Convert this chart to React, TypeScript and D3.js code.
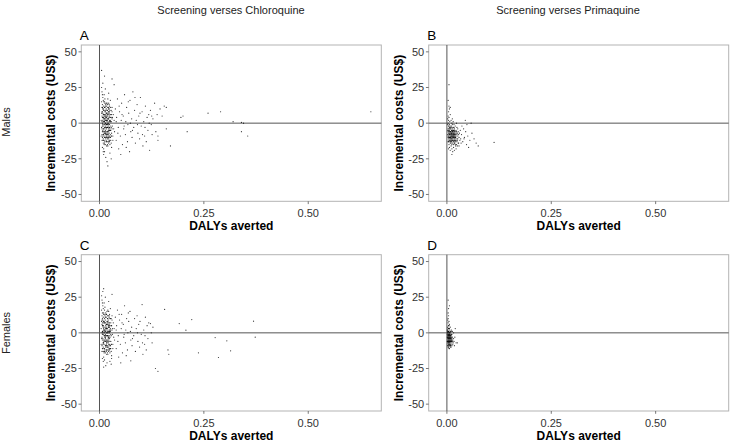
import React from "react";
import * as d3 from "d3";

// ---------- data (DALYs averted, incremental cost US$) ----------
const malesChloroquine: [number, number][] = [
  [0.004,2],[0.005,-3],[0.006,8],[0.007,-10],[0.008,4],[0.009,-6],[0.010,12],[0.011,-1],[0.012,6],[0.013,-13],[0.014,3],[0.015,-8],[0.016,10],[0.017,-4],[0.018,1],[0.019,-11],[0.020,7],[0.021,-2],[0.022,14],[0.023,-7],[0.024,5],[0.025,-15],[0.026,2],[0.027,-5],[0.028,9],[0.029,-9],[0.030,3],
  [0.005,15],[0.006,-8],[0.007,0],[0.008,18],[0.009,-14],[0.010,-4],[0.011,9],[0.012,-10],[0.013,5],[0.014,-2],[0.015,13],[0.016,-12],[0.017,7],[0.018,-6],[0.019,2],[0.020,-16],[0.021,11],[0.022,-9],[0.023,4],[0.024,-1],[0.026,16],[0.027,-12],[0.028,-3],[0.030,8],
  [0.004,-9],[0.006,5],[0.008,-1],[0.009,10],[0.011,-7],[0.012,1],[0.013,17],[0.014,-15],[0.015,4],[0.016,-3],[0.017,12],[0.018,-9],[0.019,6],[0.020,0],[0.021,-13],[0.022,3],[0.024,-5],[0.025,9],[0.027,1],[0.029,-7],
  [0.005,7],[0.006,-12],[0.007,13],[0.008,-5],[0.009,3],[0.010,-18],[0.011,20],[0.012,-6],[0.013,-1],[0.014,8],[0.015,-11],[0.016,2],[0.017,-16],[0.018,14],[0.019,-3],[0.020,5],[0.021,-8],[0.022,-11],[0.023,10],[0.025,-4],[0.026,-8],[0.028,4],[0.031,-2],[0.033,6],
  [0.006,22],[0.007,-17],[0.009,16],[0.010,6],[0.012,-20],[0.013,11],[0.015,0],[0.016,-7],[0.018,-13],[0.019,9],[0.021,3],[0.023,-3],[0.024,12],[0.026,-10],[0.028,-14],[0.030,11],[0.032,-9],[0.035,2],
  [0.007,4],[0.008,-9],[0.010,1],[0.011,-12],[0.012,15],[0.014,-5],[0.015,6],[0.017,-1],[0.018,5],[0.020,-10],[0.021,8],[0.022,-4],[0.024,-13],[0.025,1],[0.027,6],[0.029,-17],
  [0.006,1],[0.007,-6],[0.008,10],[0.009,-2],[0.010,4],[0.011,-9],[0.012,11],[0.013,-4],[0.014,0],[0.015,-6],[0.016,7],[0.017,-10],[0.018,3],[0.019,-1],[0.020,11],[0.021,-5],[0.022,8],[0.023,-12],[0.024,2],[0.025,6],
  [0.006,-4],[0.007,8],[0.008,2],[0.009,-11],[0.010,9],[0.011,3],[0.012,-3],[0.013,8],[0.014,-10],[0.015,2],[0.016,-9],[0.017,4],[0.018,-3],[0.019,13],[0.020,-7],[0.021,0],[0.022,-6],[0.023,7],[0.024,-9],[0.026,4],
  [0.007,11],[0.008,-12],[0.009,6],[0.010,-8],[0.011,1],[0.012,-14],[0.013,2],[0.014,12],[0.015,-3],[0.016,5],[0.017,-8],[0.018,9],[0.019,-6],[0.020,-3],[0.021,6],[0.022,-1],[0.023,1],[0.024,8],[0.025,-10],[0.027,-2],
  [0.008,7],[0.009,-4],[0.010,-12],[0.011,5],[0.012,3],[0.013,-7],[0.014,5],[0.015,9],[0.016,-1],[0.017,2],[0.018,-1],[0.019,-8],[0.020,3],[0.021,-10],[0.022,10],[0.023,-5],[0.024,-3],[0.026,-5],[0.028,1],[0.030,-4],
  [0.006,11],[0.007,-2],[0.009,-8],[0.010,15],[0.011,-15],[0.013,14],[0.014,-7],[0.016,14],[0.017,-13],[0.019,-15],[0.020,17],[0.022,-14],[0.023,13],[0.025,-12],[0.026,11],[0.028,-9],[0.029,6],[0.031,4],[0.032,-12],[0.034,-4],
  [0.005,25],[0.008,28],[0.012,33],[0.015,-24],[0.018,-27],[0.020,-30],[0.010,-22],[0.007,20],[0.009,-20],[0.014,24],[0.022,21],[0.025,-21],[0.030,31],[0.035,27],[0.028,-25],[0.005,37],
  [0.036,-6],[0.038,10],[0.040,-12],[0.041,4],[0.043,17],[0.045,-3],[0.046,-18],[0.048,8],[0.050,-9],[0.052,2],[0.053,14],[0.055,-15],[0.057,5],[0.058,-4],[0.060,20],[0.062,-8],[0.063,1],[0.065,11],[0.067,-13],[0.068,-1],[0.070,7],[0.072,-20],[0.073,16],[0.075,-6],[0.077,3],[0.078,-10],[0.080,22],[0.082,-3],[0.084,9],[0.086,-14],[0.088,2],[0.090,13],[0.092,-7],[0.094,5],[0.096,-11],[0.098,18],[0.100,-2],[0.102,8],[0.104,-16],[0.106,1],[0.108,-9],[0.110,12],[0.112,-13],[0.114,4],[0.116,-5],[0.118,6],[0.120,-19],[0.122,9],[0.124,-1],[0.126,-8],[0.128,3],[0.132,14],[0.135,-6],[0.138,6],[0.140,-12],[0.145,10],[0.150,5],[0.155,12],[0.160,-4],
  [0.040,1],[0.044,-7],[0.047,12],[0.051,-22],[0.054,6],[0.059,-2],[0.064,-17],[0.069,15],[0.074,0],[0.079,-5],[0.085,18],[0.091,-1],[0.097,7],[0.103,-8],[0.109,-3],[0.119,0],[0.125,5],
  [0.17,-16],[0.20,5],[0.21,-6],[0.26,7],[0.29,8],[0.32,1],[0.34,0.5],[0.345,0],[0.355,-9],[0.34,-6],[0.65,8],[0.195,4],[0.14,-9],[0.16,11]
];

const malesPrimaquine: [number, number][] = [
  [0.002,-5],[0.003,-9],[0.004,-2],[0.005,-12],[0.006,-7],[0.007,-4],[0.008,-10],[0.009,-6],[0.010,-14],[0.011,-8],[0.012,-3],[0.013,-11],[0.014,-7],[0.015,-9],[0.016,-5],[0.017,-13],[0.018,-8],[0.019,-10],[0.020,-6],[0.021,-12],[0.022,-9],[0.024,-11],[0.025,-7],[0.027,-14],[0.029,-10],
  [0.002,-1],[0.003,-6],[0.004,-11],[0.005,-8],[0.006,-3],[0.007,-13],[0.008,-6],[0.009,-9],[0.010,-4],[0.011,-11],[0.012,-7],[0.013,-5],[0.014,-12],[0.015,-3],[0.016,-10],[0.017,-7],[0.018,-11],[0.019,-5],[0.020,-13],[0.021,-8],[0.023,-6],[0.025,-12],[0.026,-9],[0.028,-8],[0.031,-12],
  [0.002,-8],[0.003,0],[0.004,-7],[0.005,-4],[0.006,-10],[0.007,-8],[0.008,-2],[0.009,-12],[0.010,-9],[0.011,-5],[0.012,-10],[0.013,-8],[0.014,-4],[0.015,-13],[0.016,-8],[0.017,-3],[0.018,-6],[0.019,-14],[0.020,-9],[0.022,-5],[0.023,-15],[0.024,-8],[0.026,-4],[0.030,-7],[0.033,-11],
  [0.003,-13],[0.004,2],[0.005,-15],[0.006,-1],[0.007,-11],[0.008,-14],[0.009,-3],[0.010,-11],[0.011,-2],[0.012,-15],[0.013,-1],[0.014,-9],[0.015,-6],[0.016,-15],[0.017,-10],[0.018,-4],[0.019,-8],[0.021,-16],[0.022,-12],[0.024,-3],[0.027,-6],[0.029,-16],[0.032,-5],
  [0.003,-4],[0.004,-9],[0.005,-6],[0.006,-12],[0.007,-9],[0.008,-7],[0.009,-10],[0.010,-7],[0.011,-13],[0.012,-9],[0.013,-6],[0.014,-10],[0.015,-11],[0.016,-7],[0.017,-9],[0.018,-12],[0.019,-7],[0.020,-10],
  [0.003,-10],[0.004,-5],[0.005,-10],[0.006,-5],[0.007,-6],[0.008,-11],[0.009,-8],[0.010,-12],[0.011,-7],[0.012,-5],[0.013,-12],[0.014,-6],[0.015,-8],[0.016,-12],[0.017,-5],[0.018,-9],[0.019,-12],[0.021,-10],
  [0.004,-13],[0.005,-2],[0.006,-8],[0.007,-10],[0.008,-4],[0.009,-13],[0.010,-6],[0.011,-9],[0.012,-12],[0.013,-9],[0.014,-14],[0.015,-5],[0.016,-9],[0.018,-14],[0.020,-11],[0.022,-7],[0.024,-13],[0.026,-11],
  [0.002,3],[0.003,5],[0.004,8],[0.005,4],[0.006,10],[0.007,1],[0.008,6],[0.010,2],[0.012,0],[0.013,3],[0.015,1],[0.017,-1],[0.020,-2],[0.023,0],
  [0.004,-18],[0.006,-17],[0.008,-19],[0.010,-16],[0.012,-18],[0.014,-20],[0.016,-17],[0.018,-19],[0.020,-15],[0.022,-18],[0.025,-16],[0.028,-14],[0.012,-22],
  [0.035,-8],[0.038,-13],[0.040,-4],[0.042,-10],[0.045,-6],[0.047,-15],[0.050,-9],[0.055,-12],[0.058,0],[0.060,-7],[0.065,-11],[0.070,-14],[0.075,-16],[0.036,-2],[0.048,-1],[0.052,-17],[0.034,-14],[0.041,-11],[0.044,2],
  [0.005,27],[0.003,16],[0.113,-13.5],[0.005,12],[0.008,11]
];

const femalesChloroquine: [number, number][] = [
  [0.004,3],[0.005,-4],[0.006,9],[0.007,-11],[0.008,5],[0.009,-7],[0.010,13],[0.011,-2],[0.012,7],[0.013,-12],[0.014,2],[0.015,-9],[0.016,11],[0.017,-5],[0.018,0],[0.019,-10],[0.020,8],[0.021,-3],[0.022,15],[0.023,-6],[0.024,4],[0.025,-14],[0.026,1],[0.027,-6],[0.028,10],[0.029,-8],[0.030,2],
  [0.005,16],[0.006,-9],[0.007,1],[0.008,19],[0.009,-13],[0.010,-5],[0.011,8],[0.012,-11],[0.013,4],[0.014,-3],[0.015,14],[0.016,-13],[0.017,6],[0.018,-7],[0.019,3],[0.020,-15],[0.021,12],[0.022,-8],[0.023,5],[0.024,0],[0.026,17],[0.027,-11],[0.028,-2],[0.030,9],
  [0.004,-8],[0.006,6],[0.008,0],[0.009,11],[0.011,-6],[0.012,2],[0.013,18],[0.014,-14],[0.015,5],[0.016,-2],[0.017,13],[0.018,-10],[0.019,7],[0.020,1],[0.021,-12],[0.022,4],[0.024,-4],[0.025,10],[0.027,2],[0.029,-16],
  [0.005,8],[0.006,-13],[0.007,14],[0.008,-4],[0.009,4],[0.010,-17],[0.011,21],[0.012,-5],[0.013,0],[0.014,9],[0.015,-10],[0.016,3],[0.017,-15],[0.018,15],[0.019,-2],[0.020,6],[0.021,-7],[0.022,-10],[0.023,11],[0.025,-3],[0.026,-9],[0.028,5],[0.031,-1],[0.033,7],
  [0.006,23],[0.007,-18],[0.009,17],[0.010,7],[0.012,-19],[0.013,12],[0.015,1],[0.016,-6],[0.018,-12],[0.019,10],[0.021,4],[0.023,-2],[0.024,13],[0.026,-11],[0.028,-13],[0.030,12],[0.032,-8],[0.035,3],
  [0.007,5],[0.008,-8],[0.010,2],[0.011,-11],[0.012,16],[0.014,-4],[0.015,7],[0.017,0],[0.018,6],[0.020,-9],[0.021,9],[0.022,-3],[0.024,-12],[0.025,2],[0.027,7],[0.029,-18],
  [0.006,0],[0.007,-5],[0.008,9],[0.009,-1],[0.010,3],[0.011,-8],[0.012,10],[0.013,-3],[0.014,-1],[0.015,-5],[0.016,6],[0.017,-9],[0.018,2],[0.019,0],[0.020,10],[0.021,-4],[0.022,7],[0.023,-11],[0.024,1],[0.025,5],
  [0.006,-3],[0.007,7],[0.008,1],[0.009,-10],[0.010,8],[0.011,2],[0.012,-2],[0.013,7],[0.014,-9],[0.015,3],[0.016,-8],[0.017,3],[0.018,-2],[0.019,12],[0.020,-6],[0.021,1],[0.022,-5],[0.023,6],[0.024,-8],[0.026,3],
  [0.007,10],[0.008,-11],[0.009,5],[0.010,-7],[0.011,0],[0.012,-13],[0.013,1],[0.014,11],[0.015,-2],[0.016,4],[0.017,-7],[0.018,8],[0.019,-5],[0.020,-2],[0.021,5],[0.022,0],[0.023,2],[0.024,7],[0.025,-9],[0.027,-1],
  [0.006,12],[0.007,-1],[0.009,-7],[0.010,14],[0.011,-14],[0.013,13],[0.014,-6],[0.016,13],[0.017,-12],[0.019,-14],[0.020,16],[0.022,-13],[0.023,12],[0.025,-11],[0.026,10],[0.028,-8],[0.029,5],[0.031,3],[0.032,-11],[0.034,-3],
  [0.005,26],[0.008,29],[0.010,31],[0.015,-23],[0.018,-21],[0.010,-24],[0.007,21],[0.009,-20],[0.014,25],[0.022,22],[0.025,-20],[0.030,27],[0.028,-22],
  [0.036,-5],[0.038,11],[0.040,-11],[0.041,5],[0.043,16],[0.045,-2],[0.046,-17],[0.048,9],[0.050,-8],[0.052,3],[0.053,13],[0.055,-14],[0.057,6],[0.058,-3],[0.060,19],[0.062,-7],[0.063,2],[0.065,10],[0.067,-12],[0.068,0],[0.070,8],[0.073,15],[0.075,-5],[0.077,4],[0.078,-9],[0.082,-2],[0.084,10],[0.086,-13],[0.088,3],[0.090,12],[0.092,-6],[0.094,6],[0.096,-10],[0.100,-1],[0.104,-15],[0.106,2],[0.108,-8],[0.110,11],[0.112,-12],[0.114,5],[0.116,-4],[0.118,7],[0.124,0],[0.126,-7],[0.128,4],
  [0.040,2],[0.044,-6],[0.047,13],[0.051,-21],[0.054,7],[0.059,-1],[0.064,-16],[0.069,14],[0.074,1],[0.079,-4],[0.091,0],[0.097,8],[0.103,-7],[0.109,-2],
  [0.075,-19.6],[0.102,19.8],[0.122,6.5],[0.134,-25],[0.140,-27],[0.156,16.4],[0.164,-12],[0.166,-15],[0.191,6.5],[0.207,1.9],[0.221,9.3],[0.237,-14],[0.277,-3.3],[0.285,-17.3],[0.305,-5.6],[0.314,-12.6],[0.369,8.2],[0.373,-3]
];

const femalesPrimaquine: [number, number][] = [
  [0.001,-3],[0.002,-6],[0.003,-1],[0.004,-8],[0.005,-4],[0.006,-2],[0.007,-7],[0.008,-5],[0.009,-3],[0.010,-6],[0.011,-1],[0.012,-4],
  [0.001,0],[0.002,-4],[0.003,-7],[0.004,-2],[0.005,-9],[0.006,-5],[0.007,-1],[0.008,-8],[0.009,-6],[0.010,-2],[0.012,-7],[0.014,-5],
  [0.001,2],[0.002,-2],[0.003,-5],[0.004,1],[0.005,-6],[0.006,-8],[0.007,-3],[0.008,0],[0.009,-9],[0.011,-5],[0.013,-3],[0.015,-7],
  [0.001,-6],[0.002,1],[0.003,-9],[0.004,-5],[0.005,0],[0.006,3],[0.007,-5],[0.008,-3],[0.009,1],[0.010,-8],[0.012,-1],[0.016,-4],
  [0.002,4],[0.003,7],[0.004,5],[0.005,3],[0.006,6],[0.007,2],[0.008,4],[0.010,1],[0.003,10],[0.004,12],[0.002,9],[0.005,8],[0.003,14],[0.004,17],[0.003,23],[0.006,19],
  [0.002,-9],[0.004,-10],[0.006,-11],[0.008,-10],[0.010,-10],[0.012,-9],[0.014,-8],[0.017,-6],[0.019,-3],[0.022,-7],[0.025,-7],[0.020,3],[0.018,-9],[0.016,0],[0.013,1],[0.011,2],
  [0.001,-1],[0.002,-3],[0.003,-2],[0.004,-4],[0.005,-2],[0.006,-4],[0.007,-6],[0.008,-2],[0.009,-4],[0.010,-4],[0.011,-3],[0.003,-4],[0.005,-5],[0.007,-4],[0.004,-6],[0.006,-6],
  [0.002,-5],[0.003,-3],[0.004,-7],[0.005,-1],[0.006,-7],[0.007,0],[0.008,-6],[0.009,-7],[0.003,-6],[0.004,-3],[0.005,-7],[0.006,-1],[0.007,-8],[0.008,-1],[0.009,-5],[0.010,-5],[0.002,0],[0.003,1],[0.004,0],[0.005,1],
  [0.006,0],[0.007,-2],[0.008,-4],[0.009,-2],[0.002,-7],[0.003,-8],[0.004,-1],[0.005,-3],[0.006,-3],[0.007,-9],[0.011,-6],[0.012,-5],[0.013,-6],[0.002,2],[0.003,3],[0.004,3],[0.005,5],[0.003,-10],[0.005,-11],[0.008,-9]
];

const xTicks = [0, 0.25, 0.5];
const yTicks = [-50, -25, 0, 25, 50];
const columnTitles = ["Screening verses Chloroquine", "Screening verses Primaquine"];
const rowTitles = ["Males", "Females"];
const panelTags = ["A", "B", "C", "D"];

const FONT = "'Liberation Sans', Arial, Helvetica, sans-serif";
const W = 731, H = 441;
const PW = 300, PH = 156.3;
const lefts = [81.3, 428.7];
const tops = [45, 254.7];

function Panel({ data, left, top, tag }: { data: [number, number][]; left: number; top: number; tag: string }) {
  const x = d3.scaleLinear().domain([-0.0436, 0.675]).range([left, left + PW]);
  const y = d3.scaleLinear().domain([-54.8, 54.8]).range([top + PH, top]);
  const cx = left + PW / 2;
  return (
    <g>
      <text x={left - 1.5} y={top - 5} fontSize={13.5} fill="#000" fontFamily={FONT}>{tag}</text>
      <rect x={left} y={top} width={PW} height={PH} fill="#fff" stroke="#b3b3b3" strokeWidth={1} />
      <line x1={x(0)} x2={x(0)} y1={top} y2={top + PH} stroke="#555" strokeWidth={1} />
      <line x1={left} x2={left + PW} y1={y(0)} y2={y(0)} stroke="#555" strokeWidth={1} />
      {data.map((d, i) => (
        <circle key={i} cx={x(d[0])} cy={y(d[1])} r={0.6} fill="#000" fillOpacity={0.8} />
      ))}
      {yTicks.map((t) => (
        <g key={"y" + t}>
          <line x1={left - 2.8} x2={left} y1={y(t)} y2={y(t)} stroke="#555" strokeWidth={0.8} />
          <text x={left - 4.5} y={y(t)} dy="0.35em" textAnchor="end" fontSize={11} fill="#333" fontFamily={FONT}>{t}</text>
        </g>
      ))}
      {xTicks.map((t) => (
        <g key={"x" + t}>
          <line x1={x(t)} x2={x(t)} y1={top + PH} y2={top + PH + 2.8} stroke="#555" strokeWidth={0.8} />
          <text x={x(t)} y={top + PH + 15.5} textAnchor="middle" fontSize={11} fill="#333" fontFamily={FONT}>{d3.format(".2f")(t)}</text>
        </g>
      ))}
      <text x={cx} y={top + PH + 28.5} textAnchor="middle" fontSize={12} fontWeight="bold" fill="#000" fontFamily={FONT}>DALYs averted</text>
      <text transform={`translate(${left - 26},${top + PH / 2}) rotate(-90)`} textAnchor="middle" fontSize={12} fontWeight="bold" fill="#000" fontFamily={FONT}>Incremental costs (US$)</text>
    </g>
  );
}

export default function App() {
  const panels = [malesChloroquine, malesPrimaquine, femalesChloroquine, femalesPrimaquine];
  return (
    <svg width={W} height={H} style={{ position: "absolute", left: 0, top: 0, background: "#fff" }}>
      <rect width={W} height={H} fill="#fff" />
      {columnTitles.map((t, i) => (
        <text key={t} x={i === 0 ? 231 : 568} y={14} textAnchor="middle" fontSize={11} fill="#222" fontFamily={FONT}>{t}</text>
      ))}
      {rowTitles.map((t, i) => (
        <text key={t} transform={`translate(10,${i === 0 ? 122 : 333}) rotate(-90)`} textAnchor="middle" fontSize={11} fill="#222" fontFamily={FONT}>{t}</text>
      ))}
      {panels.map((p, i) => (
        <Panel key={i} data={p} left={lefts[i % 2]} top={tops[Math.floor(i / 2)]} tag={panelTags[i]} />
      ))}
    </svg>
  );
}
